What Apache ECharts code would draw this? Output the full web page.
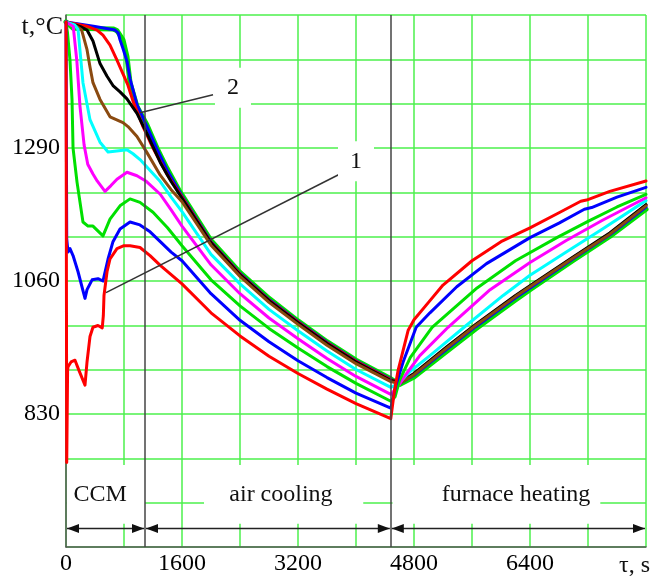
<!DOCTYPE html>
<html>
<head>
<meta charset="UTF-8">
<title>Temperature history</title>
<script src="https://cdn.jsdelivr.net/npm/echarts@6/dist/echarts.min.js"></script>
<style>
    html, body { margin: 0; padding: 0; background: #fff; }
    #chart { width: 652px; height: 576px; }
</style>
</head>
<body>
<div id="chart"></div>
<script>
// axis ticks and phases
var xTicks = [0, 1600, 3200, 4800, 6400];
var yTicks = [830, 1060, 1290];
var phaseEdges = [0, 1090, 4480, 8000];
var phaseNames = ['CCM', 'air cooling', 'furnace heating'];

// temperature curves, [time s, temperature °C]
var red1 = [[0,1508],[10,746],[22,905],[28,912],[70,920],[124,923],[180,905],[262,880],[280,878],[290,920],[331,964],[372,980],[441,983],[500,979],[515,1000],[524,1035],[566,1076],[607,1098],[703,1116],[800,1121],[883,1121],[1021,1118],[1159,1104],[1300,1087],[1450,1071],[1600,1055],[2000,1005],[2400,965],[2800,930],[3200,900],[3600,873],[4000,848],[4480,822],
    [4530,870],[4580,905],[4650,940],[4720,975],[4800,993],[5000,1023],[5200,1053],[5600,1095],[6000,1128],[6400,1152],[6800,1178],[7100,1198],[7180,1200],[7500,1215],[8000,1233]];
var blue1 = [[0,1508],[10,1133],[28,1110],[55,1116],[97,1104],[166,1076],[262,1030],[290,1045],[360,1062],[441,1064],[510,1060],[580,1098],[648,1128],[745,1150],[883,1162],[1020,1157],[1160,1145],[1300,1128],[1450,1110],[1600,1095],[2000,1038],[2400,992],[2800,955],[3200,922],[3600,893],[4000,866],[4480,840],
    [4550,880],[4650,920],[4830,980],[5020,1005],[5390,1050],[5800,1090],[6400,1135],[6800,1160],[7150,1184],[7250,1187],[7600,1205],[8000,1222]];
var green1 = [[0,1508],[20,1490],[55,1442],[83,1374],[97,1290],[152,1231],[234,1162],[303,1155],[372,1155],[510,1138],[607,1167],[745,1190],[883,1202],[1021,1196],[1200,1179],[1400,1152],[1600,1121],[2000,1062],[2400,1017],[2800,978],[3200,944],[3600,912],[4000,883],[4480,852],
    [4540,860],[4600,888],[4750,928],[5050,980],[5340,1012],[5670,1048],[6200,1095],[6770,1135],[7200,1163],[7600,1188],[8000,1210]];
var magenta1 = [[0,1508],[100,1500],[150,1440],[193,1362],[250,1295],[300,1262],[372,1245],[430,1233],[538,1215],[620,1225],[703,1236],[841,1248],[979,1242],[1100,1233],[1300,1210],[1450,1183],[1600,1155],[2000,1088],[2400,1038],[2800,996],[3200,960],[3600,926],[4000,895],[4480,864],
    [4570,876],[4680,897],[4880,931],[5270,980],[5850,1045],[6400,1092],[6900,1130],[7400,1165],[8000,1204]];
var cyan1 = [[0,1508],[120,1503],[166,1495],[234,1403],[331,1339],[469,1300],[580,1283],[700,1285],[841,1287],[924,1280],[1021,1270],[1300,1232],[1450,1205],[1600,1180],[2000,1106],[2400,1055],[2800,1011],[3200,974],[3600,939],[4000,907],[4480,876],
    [4580,882],[4750,904],[5020,931],[5520,983],[6030,1035],[6400,1070],[6900,1110],[7400,1150],[8000,1199]];
var brown1 = [[0,1508],[150,1500],[216,1494],[290,1460],[331,1430],[372,1403],[469,1374],[607,1344],[786,1334],[855,1327],[979,1310],[1117,1282],[1300,1243],[1450,1218],[1600,1197],[2000,1122],[2400,1068],[2800,1023],[3200,985],[3600,949],[4000,917],[4480,886],
    [4600,883],[4800,898],[5250,944],[5650,983],[6200,1033],[6400,1050],[7000,1100],[7500,1141],[8000,1190]];
var black1 = [[0,1508],[200,1500],[290,1494],[372,1475],[469,1436],[566,1414],[648,1398],[745,1387],[841,1375],[979,1350],[1117,1315],[1300,1265],[1450,1232],[1600,1203],[2000,1126],[2400,1071],[2800,1026],[3200,988],[3600,952],[4000,920],[4480,888],
    [4600,885],[4800,900],[5250,946],[5650,985],[6200,1035],[6400,1052],[7000,1102],[7500,1143],[8000,1192]];
var red2 = [[0,1508],[300,1500],[428,1494],[510,1485],[607,1468],[700,1443],[780,1420],[850,1400],[924,1371],[1062,1327],[1200,1290],[1400,1243],[1600,1205],[2000,1127],[2400,1072],[2800,1027],[3200,989],[3600,953],[4000,921],[4480,889],
    [4600,884],[4800,899],[5250,945],[5650,984],[6200,1034],[6400,1051],[7000,1101],[7500,1142],[8000,1191]];
var blue2 = [[0,1508],[400,1500],[676,1494],[720,1489],[745,1477],[786,1462],[841,1440],[883,1410],[979,1365],[1117,1327],[1255,1288],[1393,1252],[1600,1207],[2000,1128],[2400,1073],[2800,1028],[3200,990],[3600,954],[4000,922],[4480,890],
    [4600,883],[4800,897],[5250,942],[5650,981],[6200,1031],[6400,1048],[7000,1099],[7500,1140],[8000,1188]];
var green2 = [[0,1508],[100,1497],[648,1496],[703,1493],[786,1477],[841,1448],[883,1403],[979,1362],[1117,1330],[1255,1290],[1393,1255],[1572,1214],[1600,1209],[2000,1130],[2400,1075],[2800,1030],[3200,991],[3600,955],[4000,923],[4480,891],
    [4600,881],[4800,894],[5250,938],[5650,977],[6200,1027],[6400,1045],[7000,1096],[7500,1137],[8000,1184]];

var curves = [
    {data: green2, color: '#00e000', width: 5},
    {data: blue2, color: '#0000ff', width: 3},
    {data: red2, color: '#ff0000', width: 3},
    {data: black1, color: '#000000', width: 3},
    {data: brown1, color: '#8a4a10', width: 3},
    {data: cyan1, color: '#00ffff', width: 3},
    {data: magenta1, color: '#ff00ff', width: 3},
    {data: green1, color: '#00e000', width: 3},
    {data: blue1, color: '#0000ff', width: 3},
    {data: red1, color: '#ff0000', width: 3}
];

var serif = 'Liberation Serif';
var gridGreen = '#4cf04c';

var series = curves.map(function (c, i) {
    return {
        type: 'line',
        data: c.data,
        showSymbol: false,
        symbol: 'none',
        z: 3 + i,
        lineStyle: {color: c.color, width: c.width, join: 'round', cap: 'round'}
    };
});
series[0].markLine = {
    silent: true,
    symbol: ['none', 'none'],
    label: {show: false},
    lineStyle: {color: '#444', width: 1.5, type: 'solid'},
    z: 20,
    data: phaseEdges.slice(1, 3).map(function (v) { return {xAxis: v}; })
};

var option = {
    animation: false,
    backgroundColor: '#fff',
    grid: {left: 66, right: 6, top: 15, bottom: 26, containLabel: false},
    xAxis: {
        type: 'value', min: 0, max: 8000, interval: 800,
        axisLine: {lineStyle: {color: '#555', width: 1.5}},
        axisTick: {show: false},
        splitLine: {show: true, lineStyle: {color: gridGreen, width: 1.5}},
        axisLabel: {
            margin: 5, color: '#000', fontFamily: serif, fontSize: 24,
            formatter: function (v) { return xTicks.indexOf(v) >= 0 ? String(v) : ''; }
        }
    },
    yAxis: [{
        type: 'value', min: 600, max: 1520, interval: 10,
        axisLine: {show: true, lineStyle: {color: '#555', width: 1.5}},
        axisTick: {show: false},
        splitLine: {show: false},
        axisLabel: {
            margin: 6, color: '#000', fontFamily: serif, fontSize: 24,
            formatter: function (v) { return yTicks.indexOf(v) >= 0 ? String(v) : ''; }
        }
    }, {
        type: 'value', min: 0, max: 12, interval: 1, position: 'left',
        axisLine: {show: false}, axisTick: {show: false}, axisLabel: {show: false},
        splitLine: {show: true, lineStyle: {color: gridGreen, width: 1.5}}
    }],
    series: series
};

var chart = echarts.init(document.getElementById('chart'));
chart.setOption(option);

function px(t, T) {
    return chart.convertToPixel({xAxisIndex: 0, yAxisIndex: 0}, [t, T]);
}

var g = [];
// white label boxes in the bottom band
var boxes = [[0, 1090], [1890, 4100], [4490, 7370]];
var boxTop = px(0, 742)[1], boxBottom = px(0, 640)[1];
boxes.forEach(function (b) {
    var a = px(b[0], 0)[0] + 1, c = px(b[1], 0)[0];
    g.push({type: 'rect', shape: {x: a, y: boxTop, width: c - a, height: boxBottom - boxTop},
        style: {fill: '#fff'}, z: 1, silent: true});
});
var labelCenters = [470, 2965, 6207];
phaseNames.forEach(function (name, i) {
    var p = px(labelCenters[i], 690);
    g.push({type: 'text', x: p[0], y: p[1], z: 30,
        style: {text: name, font: '24px "' + serif + '"', fill: '#111', align: 'center', verticalAlign: 'middle'}});
});
// double arrows
var ay = px(0, 632)[1];
function head(x, dir) {
    return {type: 'polygon', z: 30, shape: {points: [[x, ay], [x - dir * 12, ay - 4.5], [x - dir * 12, ay + 4.5]]},
        style: {fill: '#111'}};
}
for (var i = 0; i < 3; i++) {
    var x0 = px(phaseEdges[i], 0)[0] + 1, x1 = px(phaseEdges[i + 1], 0)[0] - 1;
    g.push({type: 'line', z: 29, shape: {x1: x0, y1: ay, x2: x1, y2: ay}, style: {stroke: '#222', lineWidth: 1.5}});
    g.push(head(x0, -1));
    g.push(head(x1, 1));
}
// curve annotations
var notes = [
    {text: '2', at: [2303, 1394], from: [2028, 1382], to: [1021, 1351]},
    {text: '1', at: [4000, 1267], from: [3779, 1245], to: [552, 1040]}
];
notes.forEach(function (n) {
    var a = px(n.from[0], n.from[1]), b = px(n.to[0], n.to[1]), c = px(n.at[0], n.at[1]);
    g.push({type: 'line', z: 40, shape: {x1: a[0], y1: a[1], x2: b[0], y2: b[1]},
        style: {stroke: '#333', lineWidth: 1.5}});
    g.push({type: 'text', x: c[0], y: c[1], z: 41,
        style: {text: n.text, font: '24px "' + serif + '"', fill: '#111', align: 'center', verticalAlign: 'middle',
            backgroundColor: '#fff', padding: [8, 12]}});
});
// axis names
g.push({type: 'text', x: 63, y: 27, z: 41,
    style: {text: 't,°C', font: '26px "' + serif + '"', fill: '#111', align: 'right', verticalAlign: 'middle'}});
g.push({type: 'text', x: 650, y: 566, z: 41,
    style: {text: 'τ, s', font: '24px "' + serif + '"', fill: '#111', align: 'right', verticalAlign: 'middle'}});

chart.setOption({graphic: g});
</script>
</body>
</html>
